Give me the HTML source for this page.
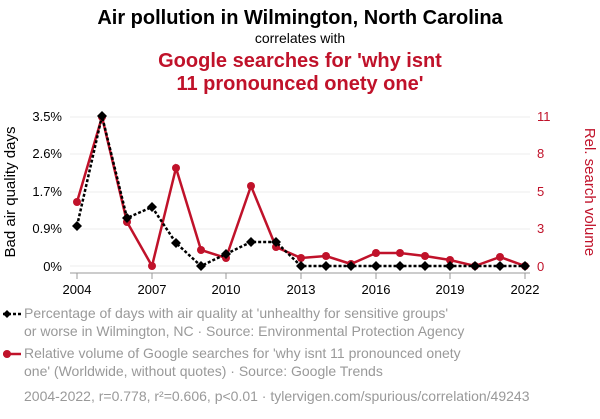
<!DOCTYPE html>
<html><head><style>
body{margin:0;background:#fff;width:600px;height:414px;overflow:hidden;font-family:"Liberation Sans",sans-serif}
</style></head><body>
<svg width="600" height="414" xmlns="http://www.w3.org/2000/svg" font-family="Liberation Sans, sans-serif">
<text x="300" y="24" text-anchor="middle" font-size="20" font-weight="bold">Air pollution in Wilmington, North Carolina</text>
<text x="300" y="43" text-anchor="middle" font-size="14">correlates with</text>
<text x="300" y="67" text-anchor="middle" font-size="20" font-weight="bold" fill="#c0122a">Google searches for 'why isnt</text>
<text x="300" y="90" text-anchor="middle" font-size="20" font-weight="bold" fill="#c0122a">11 pronounced onety one'</text>
<g stroke="#eee" stroke-width="1">
<line x1="70" x2="530" y1="117" y2="117"/><line x1="70" x2="530" y1="154" y2="154"/><line x1="70" x2="530" y1="192" y2="192"/><line x1="70" x2="530" y1="229" y2="229"/><line x1="70" x2="530" y1="266" y2="266"/>
</g>
<g font-size="13" text-anchor="end">
<text x="62" y="121">3.5%</text><text x="62" y="158">2.6%</text><text x="62" y="196">1.7%</text><text x="62" y="233">0.9%</text><text x="62" y="271">0%</text>
</g>
<g font-size="13" fill="#c0122a">
<text x="537" y="121">11</text><text x="537" y="158">8</text><text x="537" y="196">5</text><text x="537" y="233">3</text><text x="537" y="271">0</text>
</g>
<text transform="translate(15,192) rotate(-90)" text-anchor="middle" font-size="15">Bad air quality days</text>
<text transform="translate(585,192) rotate(90)" text-anchor="middle" font-size="15" fill="#c0122a">Rel. search volume</text>
<line x1="70" x2="530" y1="273" y2="273" stroke="#999"/>
<g stroke="#999"><line x1="77" x2="77" y1="273" y2="279"/><line x1="152" x2="152" y1="273" y2="279"/><line x1="226" x2="226" y1="273" y2="279"/><line x1="301" x2="301" y1="273" y2="279"/><line x1="376" x2="376" y1="273" y2="279"/><line x1="450" x2="450" y1="273" y2="279"/><line x1="525" x2="525" y1="273" y2="279"/></g>
<g font-size="13" text-anchor="middle"><text x="77" y="294">2004</text><text x="152" y="294">2007</text><text x="226" y="294">2010</text><text x="301" y="294">2013</text><text x="376" y="294">2016</text><text x="450" y="294">2019</text><text x="525" y="294">2022</text></g>
<polyline fill="none" stroke="#c0122a" stroke-width="2.5" points="77,202 102,117 127,222 152,266 176,168 201,250 226,258 251,186 276,247 301,258 326,256 351,264 376,253 400,253 425,256 450,260 475,266 500,257 525,266"/>
<g fill="#c0122a"><circle cx="77" cy="202" r="4"/><circle cx="102" cy="117" r="4"/><circle cx="127" cy="222" r="4"/><circle cx="152" cy="266" r="4"/><circle cx="176" cy="168" r="4"/><circle cx="201" cy="250" r="4"/><circle cx="226" cy="258" r="4"/><circle cx="251" cy="186" r="4"/><circle cx="276" cy="247" r="4"/><circle cx="301" cy="258" r="4"/><circle cx="326" cy="256" r="4"/><circle cx="351" cy="264" r="4"/><circle cx="376" cy="253" r="4"/><circle cx="400" cy="253" r="4"/><circle cx="425" cy="256" r="4"/><circle cx="450" cy="260" r="4"/><circle cx="475" cy="266" r="4"/><circle cx="500" cy="257" r="4"/><circle cx="525" cy="266" r="4"/></g>
<polyline fill="none" stroke="#000" stroke-width="2.5" stroke-dasharray="3,2" points="77,226 102,116 127,218 152,207 176,243 201,266 226,254 251,242 276,242 301,266 326,266 351,266 376,266 400,266 425,266 450,266 475,266 500,266 525,266"/>
<g fill="#000">
<path d="M77 221l5 5-5 5-5-5z"/><path d="M102 111l5 5-5 5-5-5z"/><path d="M127 213l5 5-5 5-5-5z"/><path d="M152 202l5 5-5 5-5-5z"/><path d="M176 238l5 5-5 5-5-5z"/><path d="M201 261l5 5-5 5-5-5z"/><path d="M226 249l5 5-5 5-5-5z"/><path d="M251 237l5 5-5 5-5-5z"/><path d="M276 237l5 5-5 5-5-5z"/><path d="M301 261l5 5-5 5-5-5z"/><path d="M326 261l5 5-5 5-5-5z"/><path d="M351 261l5 5-5 5-5-5z"/><path d="M376 261l5 5-5 5-5-5z"/><path d="M400 261l5 5-5 5-5-5z"/><path d="M425 261l5 5-5 5-5-5z"/><path d="M450 261l5 5-5 5-5-5z"/><path d="M475 261l5 5-5 5-5-5z"/><path d="M500 261l5 5-5 5-5-5z"/><path d="M525 261l5 5-5 5-5-5z"/>
</g>
<line x1="3" x2="21" y1="314" y2="314" stroke="#000" stroke-width="2.5" stroke-dasharray="3,2"/>
<path d="M7 310l4 4-4 4-4-4z"/>
<g font-size="14" fill="#999"><text x="24" y="318">Percentage of days with air quality at 'unhealthy for sensitive groups'</text><text x="24" y="336">or worse in Wilmington, NC · Source: Environmental Protection Agency</text>
<text x="24" y="358">Relative volume of Google searches for 'why isnt 11 pronounced onety</text><text x="24" y="376">one' (Worldwide, without quotes) · Source: Google Trends</text>
<text x="24" y="401">2004-2022, r=0.778, r²=0.606, p&lt;0.01 · tylervigen.com/spurious/correlation/49243</text></g>
<line x1="3" x2="21" y1="354" y2="354" stroke="#c0122a" stroke-width="2.5"/>
<circle cx="7" cy="354" r="4" fill="#c0122a"/>
</svg>
</body></html>
